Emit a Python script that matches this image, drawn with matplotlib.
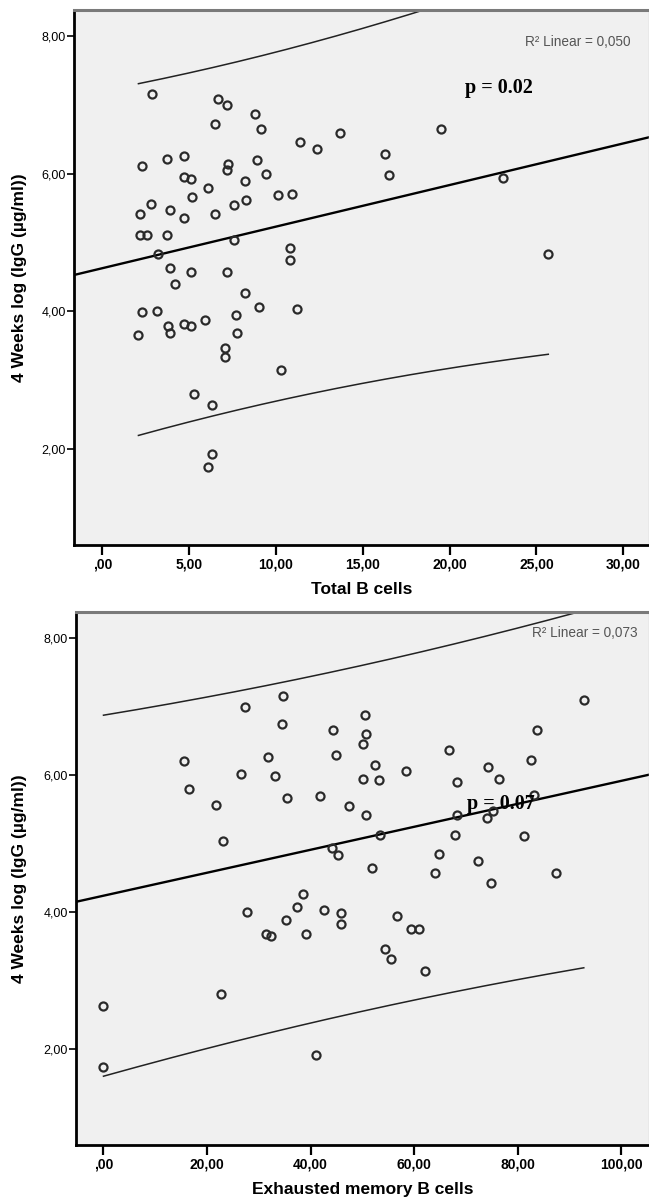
import matplotlib
matplotlib.use("Agg")
import matplotlib.pyplot as plt
import numpy as np

# values
total_b = [2.89, 6.68, 7.16, 6.47, 8.81, 9.16, 13.7, 11.41, 12.39, 19.5,
           16.3, 16.5, 23.08, 25.68, 2.29, 3.70, 4.70, 4.68, 5.08, 7.23,
           7.16, 8.90, 9.40, 8.21, 6.09, 5.18, 8.28, 7.59, 10.1, 10.9,
           2.79, 2.17, 3.89, 4.70, 6.47, 2.17, 2.60, 3.70, 7.59, 3.20,
           10.79, 10.79, 3.89, 5.08, 7.16, 4.20, 8.21,
           2.29, 3.17, 3.77, 3.87, 4.70, 5.08, 5.89, 7.68, 9.0, 11.19,
           2.08, 7.78, 7.09, 7.09, 10.29, 5.27, 6.30, 6.30, 6.09]
igg_top = [7.16, 7.09, 7.00, 6.73, 6.87, 6.66, 6.59, 6.46, 6.36, 6.66,
           6.29, 5.99, 5.94, 4.84, 6.12, 6.21, 6.26, 5.95, 5.92, 6.14,
           6.05, 6.20, 6.00, 5.90, 5.79, 5.66, 5.62, 5.55, 5.70, 5.71,
           5.56, 5.42, 5.48, 5.36, 5.41, 5.11, 5.11, 5.11, 5.04, 4.83,
           4.92, 4.75, 4.63, 4.57, 4.57, 4.40, 4.26,
           3.99, 4.00, 3.78, 3.68, 3.82, 3.78, 3.88, 3.94, 4.07, 4.04,
           3.66, 3.69, 3.46, 3.33, 3.14, 2.80, 2.63, 1.92, 1.74]

exh_mem = [34.6, 27.4, 34.4, 50.5, 50.8, 50.1, 44.4, 45.0, 92.8, 83.8,
           66.7, 82.6, 74.2, 76.5, 68.3, 58.5, 52.5, 53.3, 50.1, 15.6,
           16.6, 31.8, 26.6, 33.1, 35.4, 41.8, 47.4, 50.8, 21.7, 23.0,
           83.2, 75.2, 68.3, 74.1, 53.4, 67.9, 81.2, 44.1, 45.4, 51.9,
           64.8, 72.4, 64.0, 87.4, 74.9, 38.5,
           27.8, 37.4, 35.2, 42.6, 45.9, 45.8, 31.4, 32.3, 39.1, 56.8,
           59.4, 60.9, 54.4, 55.5, 62.2, 22.7, 0.0, 0.0, 41.0]
igg_bot = [7.16, 7.00, 6.74, 6.88, 6.60, 6.46, 6.66, 6.30, 7.09, 6.66,
           6.37, 6.22, 6.12, 5.94, 5.90, 6.06, 6.14, 5.93, 5.95, 6.20,
           5.79, 6.26, 6.01, 5.99, 5.66, 5.70, 5.55, 5.42, 5.56, 5.04,
           5.71, 5.47, 5.42, 5.37, 5.13, 5.13, 5.11, 4.94, 4.83, 4.64,
           4.85, 4.75, 4.57, 4.57, 4.43, 4.26,
           4.00, 4.07, 3.88, 4.03, 3.98, 3.82, 3.68, 3.65, 3.68, 3.94,
           3.76, 3.76, 3.46, 3.32, 3.14, 2.80, 2.63, 1.74, 1.92]

top_xticks = [0, 5, 10, 15, 20, 25, 30]
bot_xticks = [0, 20, 40, 60, 80, 100]
yticks = [2, 4, 6, 8]

tick_font = ["Liberation Sans Narrow", "Liberation Sans", "DejaVu Sans"]
label_font = ["Liberation Sans", "DejaVu Sans"]


def comma(v):
    s = f"{v:.2f}".replace(".", ",")
    if s.startswith("0,"):
        s = s[1:]
    return s


def panel(ax, xs, ys, xlim, xticks, xlabel, r2text, r2pos, ptext, ppos):
    xs = np.array(xs)
    ys = np.array(ys)
    ax.set_facecolor("#f0f0f0")

    # linear fit and 95% individual prediction interval
    n = len(xs)
    b, a = np.polyfit(xs, ys, 1)
    resid = ys - (a + b * xs)
    s = np.sqrt(np.sum(resid ** 2) / (n - 2))
    sxx = np.sum((xs - xs.mean()) ** 2)
    t = 1.998
    xl = np.array(xlim)
    ax.plot(xl, a + b * xl, color="black", lw=1.7, zorder=2)
    xc = np.linspace(xs.min(), xs.max(), 200)
    half = t * s * np.sqrt(1 + 1 / n + (xc - xs.mean()) ** 2 / sxx)
    ax.plot(xc, a + b * xc + half, color="#222222", lw=1.1, zorder=2)
    ax.plot(xc, a + b * xc - half, color="#222222", lw=1.1, zorder=2)

    ax.plot(xs, ys, "o", mfc="none", mec="#2a2a2a", ms=5.8, mew=1.6, zorder=3)

    ax.set_xlim(xlim)
    ax.set_ylim(0.6, 8.385)
    ax.set_xticks(xticks)
    ax.set_xticklabels([comma(v) for v in xticks], family=tick_font,
                       fontweight="bold", fontsize=10)
    ax.set_yticks(yticks)
    ax.set_yticklabels([comma(v) for v in yticks], family=tick_font,
                       fontsize=9)
    ax.tick_params(axis="x", direction="out", length=7, width=1.6, pad=2)
    ax.tick_params(axis="y", direction="out", length=5, width=1.2, pad=1)

    for side in ["left", "bottom"]:
        ax.spines[side].set_linewidth(2)
        ax.spines[side].set_color("black")
    ax.spines["top"].set_linewidth(2.2)
    ax.spines["top"].set_color("#7a7a7a")
    ax.spines["right"].set_linewidth(1)
    ax.spines["right"].set_color("#d0d0d0")

    ax.set_xlabel(xlabel, family=label_font, fontweight="bold", fontsize=12.5,
                  va="center")
    ax.xaxis.set_label_coords(0.5, -0.084)
    ax.set_ylabel("4 Weeks log (IgG (\u00b5g/ml))", family=label_font,
                  fontweight="bold", fontsize=12.5, va="center")

    ax.text(r2pos[0], r2pos[1], r2text, family=label_font, fontsize=9.8,
            color="#555555", va="center", ha="left")
    ax.text(ppos[0], ppos[1], ptext, family=["Liberation Serif", "DejaVu Serif"],
            fontweight="bold", fontsize=14.5, va="center", ha="left", zorder=4)


fig = plt.figure(figsize=(6.49, 12.01), dpi=100)
ax1 = fig.add_axes([74 / 649, 656 / 1201, 574.5 / 649, 535 / 1201])
ax2 = fig.add_axes([76 / 649, 56 / 1201, 572.5 / 649, 533.3 / 1201])

panel(ax1, total_b, igg_top, (-1.63, 31.45), top_xticks, "Total B cells",
      "R\u00b2 Linear = 0,050", (24.35, 7.92), "p = 0.02", (20.9, 7.25))
panel(ax2, exh_mem, igg_bot, (-5.31, 105.3), bot_xticks,
      "Exhausted memory B cells",
      "R\u00b2 Linear = 0,073", (82.8, 8.07), "p = 0.07", (70.2, 5.58))

ax1.yaxis.set_label_coords(-0.0948, 0.5)
ax2.yaxis.set_label_coords(-0.0986, 0.5)

fig.savefig("out.png", dpi=100)
